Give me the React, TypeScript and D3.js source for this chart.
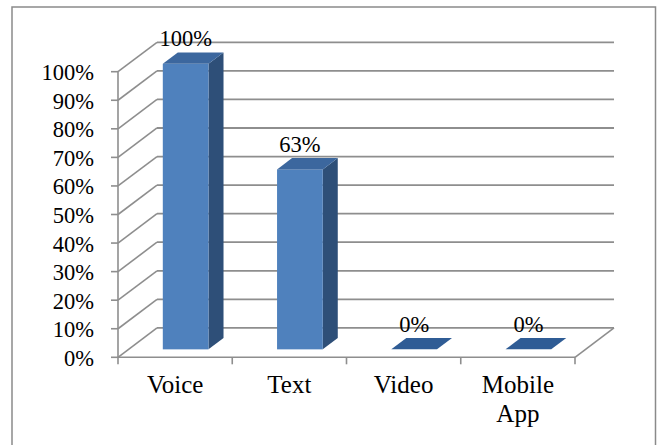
import React from "react";
import * as d3 from "d3";

const categories: string[][] = [["Voice"], ["Text"], ["Video"], ["Mobile", "App"]];
const categoryKeys = ["Voice", "Text", "Video", "Mobile App"];
const values = [1.0, 0.63, 0, 0];
const yTicks = [0, 0.1, 0.2, 0.3, 0.4, 0.5, 0.6, 0.7, 0.8, 0.9, 1.0];

const W = 657;
const H = 445;
const FONT = "Liberation Serif";

export default function App() {
  const x = d3.scaleBand<string>().domain(categoryKeys).range([118, 575]).padding(0);
  const y = d3.scaleLinear().domain([0, 1]).range([357.3, 71.7]);
  const fmt = d3.format(".0%");

  const DX = 39;
  const DY = -29.4;
  const fFront = 0.27;
  const fBack = 0.655;
  const barFrac = 0.4;

  const grid = "#8E8E8E";
  const front = "#4F81BD";
  const top = "#3C679E";
  const side = "#2E4F78";

  const pts = (arr: [number, number][]) => arr.map((p) => p.join(",")).join(" ");

  return (
    <svg
      width={W}
      height={H}
      style={{ position: "fixed", left: 0, top: 0, background: "#fff", fontFamily: FONT }}
    >
      <rect x={12} y={7} width={643.5} height={460} fill="#fff" stroke="#8A8A8A" strokeWidth={1.5} />

      {yTicks.map((t) => (
        <line
          key={"g" + t}
          x1={118 + DX}
          x2={575 + DX}
          y1={y(t) + DY}
          y2={y(t) + DY}
          stroke={grid}
          strokeWidth={1.8}
        />
      ))}
      {yTicks.map((t) => (
        <line
          key={"s" + t}
          x1={118}
          y1={y(t)}
          x2={118 + DX}
          y2={y(t) + DY}
          stroke={grid}
          strokeWidth={1.6}
        />
      ))}
      <line x1={575} y1={y(0)} x2={575 + DX} y2={y(0) + DY} stroke={grid} strokeWidth={1.6} />

      {values.map((v, i) => {
        const key = categoryKeys[i];
        const bw = x.bandwidth() * barFrac;
        const cx = (x(key) as number) + x.bandwidth() / 2;
        const x0 = cx - bw / 2;
        const x1 = cx + bw / 2;
        const fdx = DX * fFront;
        const fdy = DY * fFront;
        const bdx = DX * fBack;
        const bdy = DY * fBack;
        const yt = y(v);
        const yb = y(0);
        return (
          <g key={"b" + key}>
            {v > 0 && (
              <polygon
                points={pts([
                  [x1 + fdx, yt + fdy],
                  [x1 + bdx, yt + bdy],
                  [x1 + bdx, yb + bdy],
                  [x1 + fdx, yb + fdy],
                ])}
                fill={side}
              />
            )}
            {v > 0 && (
              <rect x={x0 + fdx} y={yt + fdy} width={bw} height={yb - yt} fill={front} />
            )}
            <polygon
              points={pts([
                [x0 + fdx, yt + fdy],
                [x1 + fdx, yt + fdy],
                [x1 + bdx, yt + bdy],
                [x0 + bdx, yt + bdy],
              ])}
              fill={v > 0 ? top : "#2F5C95"}
            />
          </g>
        );
      })}

      {values.map((v, i) => {
        const key = categoryKeys[i];
        const cx = (x(key) as number) + x.bandwidth() / 2;
        return (
          <text
            key={"d" + key}
            x={cx + DX * fFront}
            y={y(v) + DY * fBack - 6.5}
            textAnchor="middle"
            style={{ fontFamily: FONT, fontSize: "22.5px" }}
          >
            {fmt(v)}
          </text>
        );
      })}

      <line x1={118} x2={118} y1={y(0)} y2={y(1)} stroke={grid} strokeWidth={1.6} />
      {yTicks.map((t) => (
        <line key={"tk" + t} x1={111} x2={118} y1={y(t)} y2={y(t)} stroke={grid} strokeWidth={1.6} />
      ))}
      {yTicks.map((t) => (
        <text
          key={"tl" + t}
          x={94}
          y={y(t) + 8.5}
          textAnchor="end"
          style={{ fontFamily: FONT, fontSize: "22.5px" }}
        >
          {fmt(t)}
        </text>
      ))}

      <line x1={118} x2={575} y1={y(0)} y2={y(0)} stroke={grid} strokeWidth={1.6} />
      {[...categoryKeys.map((k) => x(k) as number), 575].map((xv, i) => (
        <line key={"xt" + i} x1={xv} x2={xv} y1={y(0)} y2={y(0) + 7} stroke={grid} strokeWidth={1.6} />
      ))}
      {categories.map((lines, i) => {
        const cx = (x(categoryKeys[i]) as number) + x.bandwidth() / 2;
        return lines.map((ln, j) => (
          <text
            key={"c" + i + "_" + j}
            x={cx}
            y={393 + j * 28.5}
            textAnchor="middle"
            style={{ fontFamily: FONT, fontSize: "25px" }}
          >
            {ln}
          </text>
        ));
      })}
    </svg>
  );
}
